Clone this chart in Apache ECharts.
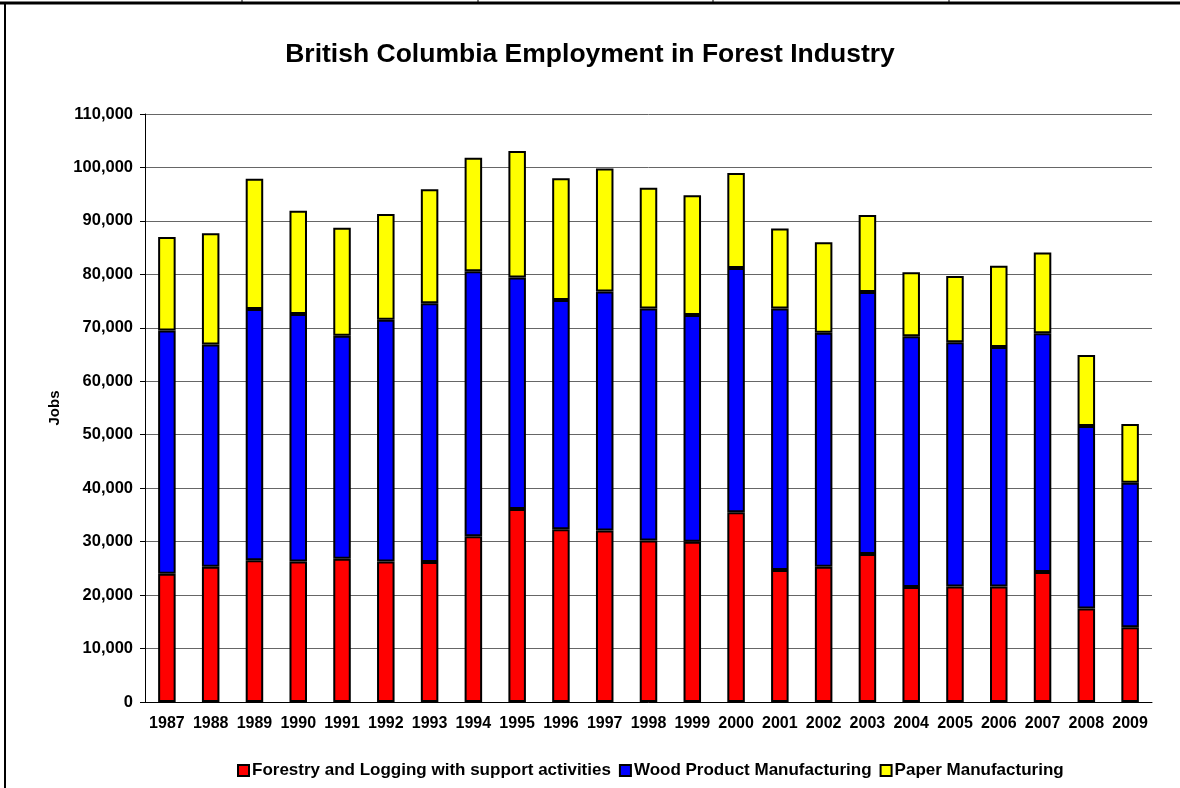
<!DOCTYPE html>
<html>
<head>
<meta charset="utf-8">
<script src="https://cdn.jsdelivr.net/npm/echarts@6/dist/echarts.min.js"></script>
<style>
  html, body { margin: 0; padding: 0; background: #fff; }
  #chart { width: 1180px; height: 788px; }
</style>
</head>
<body>
<div id="chart"></div>
<script>
// data
const years = ['1987', '1988', '1989', '1990', '1991', '1992', '1993', '1994', '1995', '1996', '1997', '1998',
    '1999', '2000', '2001', '2002', '2003', '2004', '2005', '2006', '2007', '2008', '2009'];

// cumulative tops for each band, as seen on the chart
const forestryTop = [24000, 25300, 26500, 26300, 26800, 26300, 26200, 31000, 36100, 32300, 32100, 30200,
    30000, 35500, 24700, 25300, 27700, 21500, 21600, 21600, 24300, 17500, 14000];
const woodTop = [69500, 66900, 73500, 72600, 68500, 71500, 74600, 80600, 79400, 75200, 76800, 73600,
    72400, 81200, 73600, 69100, 76700, 68400, 67300, 66400, 69000, 51650, 41000];
const paperTop = [87000, 87700, 97900, 91900, 88700, 91300, 95900, 101800, 103100, 98000, 99800, 96200,
    94800, 98950, 88600, 86000, 91100, 80400, 79700, 81600, 84100, 64900, 52000];

// series values = differences between band tops
const forestry = forestryTop.slice();
const wood = woodTop.map((v, i) => v - forestryTop[i]);
const paper = paperTop.map((v, i) => v - woodTop[i]);

const seriesNames = ['Forestry and Logging with support activities', 'Wood Product Manufacturing', 'Paper Manufacturing'];
const seriesColors = ['#ff0000', '#0000ff', '#ffff00'];

const font = 'Liberation Sans, Arial, sans-serif';

const chart = echarts.init(document.getElementById('chart'));

const makeSeries = (name, data, color) => ({
    name: name,
    type: 'bar',
    stack: 'jobs',
    barWidth: '40%',
    data: data,
    itemStyle: { color: color, borderColor: '#000', borderWidth: 2 },
    emphasis: { disabled: true }
});

chart.setOption({
    animation: false,
    title: {
        text: 'British Columbia Employment in Forest Industry',
        left: 'center',
        top: 36,
        textStyle: { fontFamily: font, fontWeight: 'bold', fontSize: 26.5, color: '#000' }
    },
    legend: {
        left: 232,
        top: 757,
        itemWidth: 11,
        itemHeight: 11,
        itemGap: 8,
        icon: 'rect',
        textStyle: { fontFamily: font, fontWeight: 'bold', fontSize: 17, color: '#000', padding: [0, 0, 0, -2] },
        data: seriesNames
    },
    grid: { left: 145, right: 28, top: 114, bottom: 86 },
    xAxis: {
        type: 'category',
        data: years,
        axisLine: { lineStyle: { color: '#000', width: 1 } },
        axisTick: { length: 5, lineStyle: { color: '#000' } },
        axisLabel: { interval: 0, margin: 14, color: '#000', fontFamily: font, fontWeight: 'bold', fontSize: 16 }
    },
    yAxis: {
        type: 'value',
        min: 0,
        max: 110000,
        interval: 10000,
        name: 'Jobs',
        nameLocation: 'middle',
        nameGap: 82,
        nameTextStyle: { fontFamily: font, fontWeight: 'bold', fontSize: 15, color: '#000' },
        axisLine: { show: true, lineStyle: { color: '#000', width: 1 } },
        axisTick: { show: true, length: 5, lineStyle: { color: '#000' } },
        axisLabel: {
            margin: 12,
            color: '#000',
            fontFamily: font,
            fontWeight: 'bold',
            fontSize: 16.5,
            formatter: v => v.toLocaleString('en-US')
        },
        splitLine: { lineStyle: { color: '#666', width: 1 } }
    },
    series: [
        makeSeries(seriesNames[0], forestry, seriesColors[0]),
        makeSeries(seriesNames[1], wood, seriesColors[1]),
        makeSeries(seriesNames[2], paper, seriesColors[2])
    ],
    graphic: [
        // spreadsheet cell borders round the chart
        { type: 'line', shape: { x1: 0, y1: 3, x2: 1180, y2: 3 }, style: { stroke: '#000', lineWidth: 3 } },
        { type: 'line', shape: { x1: 5, y1: 3, x2: 5, y2: 788 }, style: { stroke: '#000', lineWidth: 2 } },
        { type: 'line', shape: { x1: 242, y1: 0, x2: 242, y2: 3 }, style: { stroke: '#000', lineWidth: 1 } },
        { type: 'line', shape: { x1: 478, y1: 0, x2: 478, y2: 3 }, style: { stroke: '#000', lineWidth: 1 } },
        { type: 'line', shape: { x1: 713, y1: 0, x2: 713, y2: 3 }, style: { stroke: '#000', lineWidth: 1 } },
        { type: 'line', shape: { x1: 949, y1: 0, x2: 949, y2: 3 }, style: { stroke: '#000', lineWidth: 1 } }
    ]
});
</script>
</body>
</html>
